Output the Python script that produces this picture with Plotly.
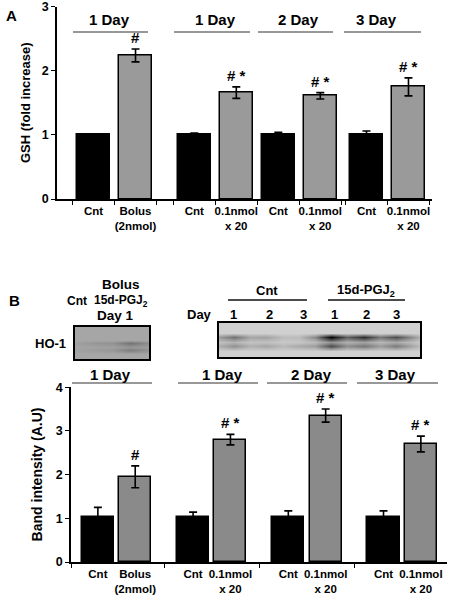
import plotly.graph_objects as go

W, H = 451, 600
FONT = "Liberation Sans, Arial, sans-serif"

# ---------------- data ----------------
group_names = ["1 Day", "1 Day", "2 Day", "3 Day"]
bar_labels = ["Cnt", "Bolus<br>(2nmol)", "Cnt", "0.1nmol<br>x 20",
              "Cnt", "0.1nmol<br>x 20", "Cnt", "0.1nmol<br>x 20"]
is_control = [True, False, True, False, True, False, True, False]

gsh_values = [1.00, 2.24, 1.01, 1.66, 1.00, 1.61, 1.00, 1.75]
gsh_errors = [0.01, 0.10, 0.02, 0.09, 0.04, 0.05, 0.06, 0.14]
gsh_marks = ["", "#", "", "# *", "", "# *", "", "# *"]

ho1_values = [1.02, 1.95, 1.02, 2.80, 1.02, 3.35, 1.02, 2.70]
ho1_errors = [0.23, 0.25, 0.12, 0.12, 0.15, 0.15, 0.15, 0.18]
ho1_marks = ["", "#", "", "# *", "", "# *", "", "# *"]

# western blot band intensities (0 = background, 1 = saturated)
left_blot_lanes = ["Cnt", "Bolus"]
left_blot_upper = [0.10, 0.30]
left_blot_lower = [0.06, 0.24]
right_blot_days = ["1", "2", "3", "1", "2", "3"]
right_blot_upper = [0.45, 0.22, 0.10, 1.00, 0.78, 0.62]
right_blot_lower = [0.30, 0.20, 0.18, 0.62, 0.42, 0.40]

# ---------------- layout helpers ----------------
def px(x):
    return x / W

def py(y):
    return 1 - y / H

# group starting offsets (in bar-slot units) for the two panels
startA = [0, 2.4, 4.4, 6.5]
startB = [0, 2.55, 5.1, 7.65]
posA = [startA[i // 2] + i % 2 for i in range(8)]
posB = [startB[i // 2] + i % 2 for i in range(8)]

colors_A = ["#000000" if c else "#9a9a9a" for c in is_control]
colors_B = ["#000000" if c else "#8a8a8a" for c in is_control]

fig = go.Figure()

fig.add_trace(go.Bar(
    x=posA, y=gsh_values, width=0.8, xaxis="x", yaxis="y",
    marker=dict(color=colors_A, line=dict(color="black", width=1.5)),
    error_y=dict(type="data", array=gsh_errors, color="black", thickness=1.6, width=4),
    showlegend=False, hoverinfo="skip"))

fig.add_trace(go.Bar(
    x=posB, y=ho1_values, width=0.86, xaxis="x2", yaxis="y2",
    marker=dict(color=colors_B, line=dict(color="black", width=1.5)),
    error_y=dict(type="data", array=ho1_errors, color="black", thickness=1.6, width=4),
    showlegend=False, hoverinfo="skip"))

# ---------------- blots as smoothed heatmaps ----------------
def blot_matrix(upper, lower, nrows_top=3, nrows_bottom=3):
    xs = [-1.0]
    for i in range(len(upper)):
        xs.append(float(i))
        if i < len(upper) - 1:
            xs.append(i + 0.5)
    xs.append(float(len(upper)))

    def row(vals):
        r = [0.0]
        for i, v in enumerate(vals):
            r.append(v)
            if i < len(vals) - 1:
                r.append(0.5 * (vals[i] + vals[i + 1]) * 0.6)
        r.append(0.0)
        return r

    zero = [0.0] * len(xs)
    mid = [0.35 * (u + l) / 2 for u, l in zip(row(upper), row(lower))]
    ys = list(range(1 - nrows_top, 1)) + [1, 2, 3] + list(range(4, 4 + nrows_bottom))
    z = [zero] * nrows_top + [row(upper), mid, row(lower)] + [zero] * nrows_bottom
    return xs, ys, z

xs, ys, z = blot_matrix(left_blot_upper, left_blot_lower, 5, 4)
fig.add_trace(go.Heatmap(x=xs, y=ys, z=z, xaxis="x3", yaxis="y3", zsmooth="best",
                         zmin=0, zmax=1, showscale=False, hoverinfo="skip",
                         colorscale=[[0, "#a6a6a6"], [0.5, "#525252"], [1, "#000000"]]))

xs, ys, z = blot_matrix(right_blot_upper, right_blot_lower, 4, 4)
fig.add_trace(go.Heatmap(x=xs, y=ys, z=z, xaxis="x4", yaxis="y4", zsmooth="best",
                         zmin=0, zmax=1, showscale=False, hoverinfo="skip",
                         colorscale=[[0, "#d0d0d0"], [0.5, "#666666"], [1, "#000000"]]))

# ---------------- axes ----------------
ticksA = [p + d for p in posA for d in (-0.5, 0.5)]
ticksB = [-0.72] + [(posB[i] + posB[i + 1]) / 2 for i in (1, 3, 5)]

tickfont = dict(family=FONT, size=11.5, color="black", weight="bold")
yfont = dict(family=FONT, size=12.5, color="black", weight="bold")

fig.update_layout(
    width=W, height=H, margin=dict(l=0, r=0, t=0, b=0),
    paper_bgcolor="white", plot_bgcolor="rgba(0,0,0,0)",
    font=dict(family=FONT, color="black"),
    bargap=0,
    xaxis=dict(domain=[px(57), px(432)], range=[-0.87, 8.06], anchor="y",
               tickmode="array", tickvals=posA, ticktext=bar_labels, ticks="",
               tickfont=tickfont, showline=True, linecolor="black", linewidth=1.6,
               showgrid=False, zeroline=False, automargin=False,
               minor=dict(tickmode="array", tickvals=ticksA, ticks="outside",
                          ticklen=4, tickwidth=1.3, tickcolor="black", showgrid=False)),
    yaxis=dict(domain=[py(199), py(6.5)], range=[0, 3.004], anchor="x",
               tickmode="array", tickvals=[0, 1, 2, 3], ticks="outside", ticklen=4, tickwidth=1.4,
               tickcolor="black", tickfont=yfont, showline=True, linecolor="black",
               linewidth=1.6, showgrid=False, zeroline=False, automargin=False,
               title=dict(text="GSH (fold increase)", standoff=8,
                          font=dict(family=FONT, size=13, color="black", weight="bold"))),
    xaxis2=dict(domain=[px(71), px(447)], range=[-0.72, 9.35], anchor="y2",
                tickmode="array", tickvals=posB, ticktext=bar_labels, ticks="",
                tickfont=tickfont, showline=True, linecolor="black", linewidth=1.6,
                showgrid=False, zeroline=False, automargin=False,
                minor=dict(tickmode="array", tickvals=ticksB, ticks="outside",
                           ticklen=4, tickwidth=1.3, tickcolor="black", showgrid=False)),
    yaxis2=dict(domain=[py(562), py(387)], range=[0, 4.004], anchor="x2",
                tickmode="array", tickvals=[0, 1, 2, 3, 4], ticks="outside", ticklen=4, tickwidth=1.4,
                tickcolor="black", tickfont=yfont, showline=True, linecolor="black",
                linewidth=1.6, showgrid=False, zeroline=False, automargin=False,
                title=dict(text="Band intensity (A.U)", standoff=10,
                           font=dict(family=FONT, size=14, color="black", weight="bold"))),
    xaxis3=dict(domain=[px(75), px(149)], range=[-0.6, 1.54], anchor="y3",
                showline=True, mirror=True, linecolor="black", linewidth=2,
                showticklabels=False, ticks="", showgrid=False, zeroline=False),
    yaxis3=dict(domain=[py(359), py(327)], range=[5.57, -3.57], anchor="x3",
                showline=True, mirror=True, linecolor="black", linewidth=2,
                showticklabels=False, ticks="", showgrid=False, zeroline=False),
    xaxis4=dict(domain=[px(219), px(420)], range=[-0.46, 5.74], anchor="y4",
                showline=True, mirror=True, linecolor="black", linewidth=2,
                showticklabels=False, ticks="", showgrid=False, zeroline=False),
    yaxis4=dict(domain=[py(357), py(323)], range=[5.44, -2.11], anchor="x4",
                showline=True, mirror=True, linecolor="black", linewidth=2,
                showticklabels=False, ticks="", showgrid=False, zeroline=False),
)

annotations = []
shapes = []

def text(x, y, s, size=13, **kw):
    annotations.append(dict(x=px(x), y=py(y), xref="paper", yref="paper", text=s,
                            showarrow=False, xanchor=kw.get("xanchor", "center"),
                            yanchor="middle",
                            font=dict(family=FONT, size=size, color="black", weight="bold")))

def hline(x0, x1, y, w=1.2, color="#333333"):
    shapes.append(dict(type="line", xref="paper", yref="paper", x0=px(x0), x1=px(x1),
                       y0=py(y), y1=py(y), line=dict(color=color, width=w)))

# significance marks
for xa, ya, pos, vals, errs, marks in [("x", "y", posA, gsh_values, gsh_errors, gsh_marks),
                                       ("x2", "y2", posB, ho1_values, ho1_errors, ho1_marks)]:
    for p, v, e, m in zip(pos, vals, errs, marks):
        if m:
            annotations.append(dict(x=p, y=v + e, xref=xa, yref=ya, text=m, showarrow=False,
                                    yanchor="bottom", yshift=1,
                                    font=dict(family=FONT, size=15, color="black", weight="bold")))

# panel letters
text(11, 16, "A", size=15)
text(14, 300, "B", size=15)

# group headings panel A
for name, cx, (x0, x1) in zip(group_names, [109, 215, 298, 376],
                              [(73, 148), (174, 250), (258, 333), (344, 421)]):
    text(cx, 20, name, size=15)
    hline(x0, x1, 32)

# group headings panel B
for name, cx, (x0, x1) in zip(group_names, [110, 222, 311, 395],
                              [(72, 152), (178, 258), (267, 347), (357, 438)]):
    text(cx, 374, name, size=15)
    hline(x0, x1, 383)

# blot labels
text(121, 284, "Bolus", size=13.5)
text(77, 301, "Cnt", size=12)
text(121, 301, "15d-PGJ<sub>2</sub>", size=12)
text(115, 315, "Day 1", size=13.5)
text(50, 343, "HO-1", size=13)

text(267, 290, "Cnt", size=13)
hline(228, 307, 300, w=1.3, color="#111111")
text(366, 290, "15d-PGJ<sub>2</sub>", size=13)
hline(328, 405, 300, w=1.3, color="#111111")
text(199, 314, "Day", size=13)
for d, cx in zip(right_blot_days, [234, 269, 303, 334, 366, 396]):
    text(cx, 314, d, size=13)

fig.update_layout(annotations=annotations, shapes=shapes)

fig.write_html("out.html", config={"displayModeBar": False},
               post_script="document.body.style.margin='0';document.body.style.overflow='hidden';")
